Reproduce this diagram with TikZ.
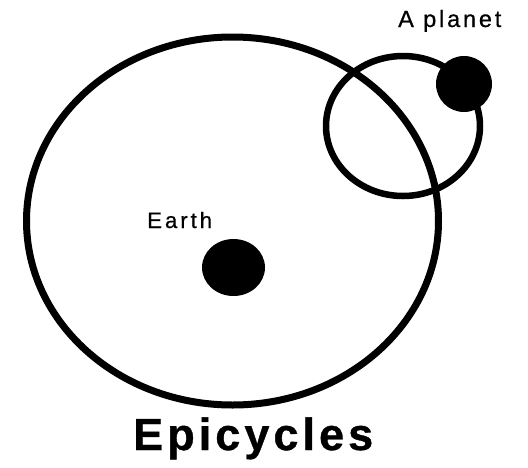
\documentclass[tikz,border=0pt]{standalone}
\usepackage{fontspec}
\setmainfont{Liberation Sans}
\usetikzlibrary{shapes.geometric}
\begin{document}
\begin{tikzpicture}[x=1pt,y=-1pt,
  orbit/.style={draw=black, line width=7pt},
  body/.style={fill=black, draw=none, inner sep=0pt},
  lbl/.style={anchor=base west, inner sep=0pt, text=black}]
\useasboundingbox (0,0) rectangle (528,467);
\node[orbit, ellipse, minimum width=412pt, minimum height=368pt, inner sep=0pt] (deferent) at (232.5,221) {};
\node[orbit, line width=6.5pt, ellipse, minimum width=154pt, minimum height=140pt, inner sep=0pt] (epicycle) at (403,126) {};
\node[body, circle, minimum size=56pt] (planet) at (464,84) {};
\node[body, ellipse, minimum width=63pt, minimum height=57pt] (earth) at (233.5,267.5) {};
\node[lbl, font=\fontsize{23.5}{26}\selectfont\addfontfeatures{LetterSpace=12,FakeBold=0.6}] (planetlbl) at (398,27) {A planet};
\node[lbl, font=\fontsize{22.3}{25}\selectfont\addfontfeatures{LetterSpace=13,FakeBold=0.6}] (earthlbl) at (147,228) {Earth};
\node[lbl, font=\bfseries\fontsize{45}{48}\selectfont\addfontfeatures{LetterSpace=9,FakeBold=0.8}] (title) at (133,450) {Epicycles};
\end{tikzpicture}
\end{document}
